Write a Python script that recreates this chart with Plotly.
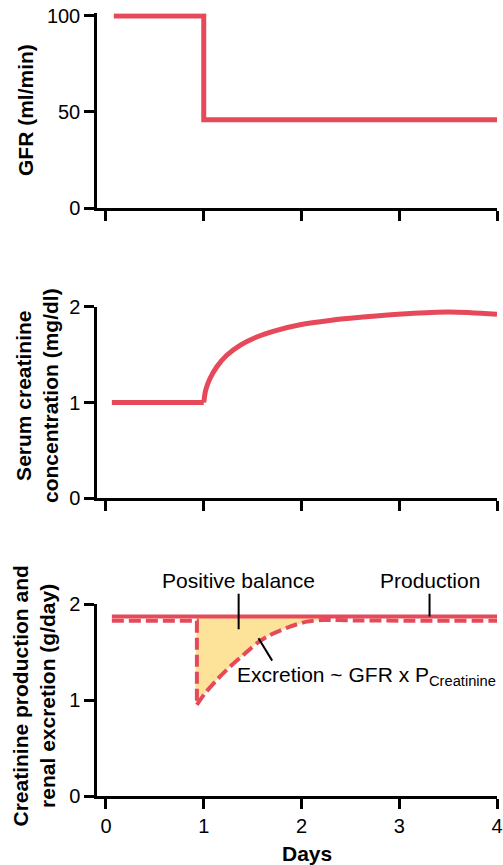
import plotly.graph_objects as go

# ---------------- data ----------------
days_ticks = [0, 1, 2, 3, 4]

gfr_x = [0.08, 1.0, 1.0, 4.0]
gfr_y = [100, 100, 46, 46]

serum_flat_x = [0.06, 1.0]
serum_flat_y = [1.0, 1.0]
serum_rise_x = [1.0, 1.02, 1.064, 1.132, 1.235, 1.371, 1.542, 1.746, 1.985, 2.29, 2.63, 3.075, 3.52, 4.0]
serum_rise_y = [1.0, 1.13, 1.25, 1.371, 1.493, 1.597, 1.684, 1.753, 1.812, 1.857, 1.892, 1.927, 1.944, 1.92]

prod_x = [0.06, 4.0]
prod_y = [1.87, 1.87]

excr_flat_x = [0.06, 0.93, 0.93]
excr_flat_y = [1.826, 1.826, 0.95]
excr_rise_x = [0.93, 1.013, 1.132, 1.269, 1.405, 1.542, 1.678, 1.882, 2.053, 2.223, 2.6, 4.0]
excr_rise_y = [0.95, 1.07, 1.208, 1.347, 1.469, 1.59, 1.677, 1.764, 1.816, 1.833, 1.828, 1.826]

# positive-balance area (between production and excretion)
bal_top_x = [0.93, 2.223]
bal_top_y = [1.87, 1.87]
bal_x = [0.93, 0.93, 1.013, 1.132, 1.269, 1.405, 1.542, 1.678, 1.882, 2.053, 2.223]
bal_y = [1.87, 0.95, 1.07, 1.208, 1.347, 1.469, 1.59, 1.677, 1.764, 1.816, 1.833]

gfr_ticks = [0, 50, 100]
conc_ticks = [0, 1, 2]

RED = "#E64A5A"
YELLOW = "#FDE29A"
FONT = "Liberation Sans, Arial, Helvetica, sans-serif"
DASH = "12px,5px"

fig = go.Figure()


def line_trace(x, y, ax, width, dash=None, shape="linear"):
    return go.Scatter(x=x, y=y, mode="lines",
                      line=dict(color=RED, width=width, dash=dash, shape=shape, smoothing=0.8),
                      xaxis="x" + ax, yaxis="y" + ax, showlegend=False, hoverinfo="skip")


# panel 1
fig.add_trace(line_trace(gfr_x, gfr_y, "", 5))
# panel 2
fig.add_trace(line_trace(serum_flat_x, serum_flat_y, "2", 5))
fig.add_trace(line_trace(serum_rise_x, serum_rise_y, "2", 5, shape="spline"))
# panel 3 fill
fig.add_trace(go.Scatter(x=bal_top_x, y=bal_top_y, mode="lines", line=dict(width=0, color=YELLOW),
                         xaxis="x3", yaxis="y3", showlegend=False, hoverinfo="skip"))
fig.add_trace(go.Scatter(x=bal_x, y=bal_y, mode="lines", line=dict(width=0, color=YELLOW, shape="spline", smoothing=0.6),
                         fill="tonexty", fillcolor=YELLOW,
                         xaxis="x3", yaxis="y3", showlegend=False, hoverinfo="skip"))
# panel 3 lines
fig.add_trace(line_trace(prod_x, prod_y, "3", 4))
fig.add_trace(line_trace(excr_flat_x, excr_flat_y, "3", 4, dash=DASH))
fig.add_trace(line_trace(excr_rise_x, excr_rise_y, "3", 4, dash=DASH, shape="spline"))

W, H = 503, 865
L, R, T, B = 97, 6, 13, 69
PH = H - T - B


def dom(top_px, bot_px):
    lo = max(0.0, (H - B - bot_px) / PH)
    hi = min(1.0, (H - B - top_px) / PH)
    return [lo, hi]


xr = [-0.092, 4.0]
common_x = dict(range=xr, showline=True, linecolor="black", linewidth=2.5, ticks="outside",
                ticklen=10, tickwidth=2.5, tickcolor="black", tickvals=days_ticks,
                showgrid=False, zeroline=False, fixedrange=True, ticklabeloverflow="allow",
                tickfont=dict(family=FONT, size=20, color="black"))
common_y = dict(showline=True, linecolor="black", linewidth=2.5, ticks="outside",
                ticklen=10, tickwidth=2.5, tickcolor="black", showgrid=False,
                zeroline=False, fixedrange=True, ticklabeloverflow="allow",
                tickfont=dict(family=FONT, size=20, color="black"))

fig.update_layout(
    width=W, height=H,
    margin=dict(l=L, r=R, t=T, b=B, autoexpand=False),
    paper_bgcolor="white", plot_bgcolor="white",
    font=dict(family=FONT, size=21, color="black"),
    xaxis=dict(common_x, anchor="y", showticklabels=False),
    xaxis2=dict(common_x, anchor="y2", showticklabels=False),
    xaxis3=dict(common_x, anchor="y3", showticklabels=True),
    yaxis=dict(common_y, anchor="x", domain=dom(13.3, 208), range=[0, 101.4], tickvals=gfr_ticks),
    yaxis2=dict(common_y, anchor="x2", domain=dom(306.7, 498.3), range=[0, 2], tickvals=conc_ticks),
    yaxis3=dict(common_y, anchor="x3", domain=dom(604, 796), range=[0, 2], tickvals=conc_ticks),
)


def px_x(p):
    return (p - L) / (W - L - R)


def px_y(p):
    return (H - B - p) / PH


annos = [
    dict(text="<b>GFR (ml/min)</b>", xref="paper", yref="paper", x=px_x(26), y=px_y(110),
         textangle=-90, showarrow=False, xanchor="center", yanchor="middle"),
    dict(text="<b>Serum creatinine<br>concentration (mg/dl)</b>", xref="paper", yref="paper",
         x=px_x(37), y=px_y(396), textangle=-90, showarrow=False, xanchor="center", yanchor="middle"),
    dict(text="<b>Creatinine production and<br>renal excretion (g/day)</b>", xref="paper", yref="paper",
         x=px_x(33), y=px_y(696.5), textangle=-90, showarrow=False, xanchor="center", yanchor="middle"),
    dict(text="<b>Days</b>", xref="paper", yref="paper", x=px_x(307), y=px_y(853),
         showarrow=False, xanchor="center", yanchor="middle"),
    dict(text="Positive balance", xref="x3", yref="y3", x=1.357, y=1.736,
         axref="x3", ayref="y3", ax=1.357, ay=2.243, showarrow=True, arrowhead=0,
         arrowwidth=2, arrowcolor="black", standoff=0),
    dict(text="Production", xref="x3", yref="y3", x=3.31, y=1.87,
         axref="x3", ayref="y3", ax=3.31, ay=2.243, showarrow=True, arrowhead=0,
         arrowwidth=2, arrowcolor="black", standoff=0),
    dict(text="Excretion ~ GFR x P<sub>Creatinine</sub>", xref="x3", yref="y3", x=1.32, y=1.25,
         showarrow=False, xanchor="left", yanchor="middle"),
]
fig.update_layout(annotations=annos)

fig.add_shape(type="line", xref="x3", yref="y3", x0=1.56, y0=1.643, x1=1.70, y1=1.41,
              line=dict(color="black", width=2))

# remove the default 8px page margin so the 503x865 figure fills the window exactly
fig.write_html("out.html", config={"displayModeBar": False},
               post_script="document.body.style.margin='0';document.body.style.overflow='hidden';")
